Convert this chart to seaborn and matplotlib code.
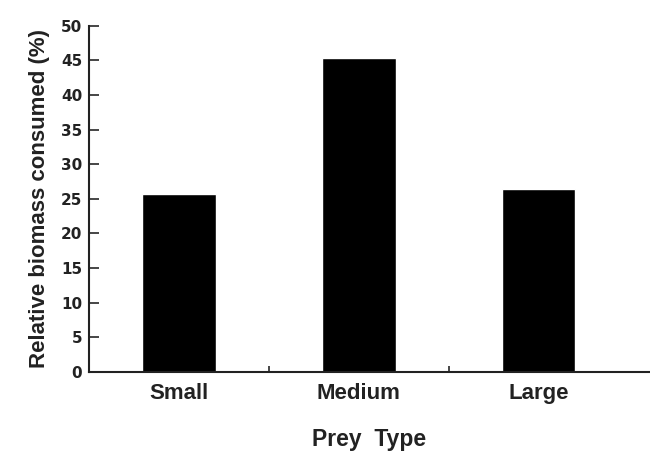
"""Relative biomass consumed by prey size class."""
import matplotlib
matplotlib.use("Agg")
import matplotlib.pyplot as plt
from matplotlib.ticker import FixedLocator
import pandas as pd
import seaborn as sns

PREY_TYPES = ["Small", "Medium", "Large"]
BIOMASS_PCT = [25.7, 45.3, 26.4]
Y_TICKS = [0, 5, 10, 15, 20, 25, 30, 35, 40, 45, 50]


def main():
    sns.set_style("ticks")
    plt.rcParams["font.family"] = ["Liberation Sans", "DejaVu Sans"]

    df = pd.DataFrame({"prey": PREY_TYPES, "pct": BIOMASS_PCT})

    fig = plt.figure(figsize=(6.5, 4.54), dpi=100)
    ax = fig.add_axes([0.137, 0.181, 0.863, 0.762])

    sns.barplot(data=df, x="prey", y="pct", order=PREY_TYPES, color="black",
                saturation=1, width=0.41, ax=ax)

    ax.set_xlim(-0.5, 2.62)
    ax.set_ylim(0, 50)
    ax.set_yticks(Y_TICKS)
    ax.set_yticklabels([str(t) for t in Y_TICKS], family="DejaVu Sans",
                       fontweight="bold", fontsize=11, color="#222222")
    ax.tick_params(axis="y", direction="in", length=7, width=1.2, pad=5)

    # category labels without ticks, small inward ticks between categories
    ax.tick_params(axis="x", which="major", length=0, pad=8)
    ax.xaxis.set_minor_locator(FixedLocator([0.5, 1.5]))
    ax.tick_params(axis="x", which="minor", direction="in", length=4, width=1.2)
    for lab in ax.get_xticklabels():
        lab.set_fontsize(16)
        lab.set_fontweight("bold")
        lab.set_color("#222222")

    ax.set_xlabel("Prey  Type", fontsize=16.5, fontweight="bold", color="#222222", labelpad=17)
    ax.set_ylabel("Relative biomass consumed (%)", fontsize=16, fontweight="bold",
                  color="#222222", labelpad=8)

    sns.despine(ax=ax)
    for side in ["left", "bottom"]:
        ax.spines[side].set_linewidth(1.5)
        ax.spines[side].set_color("#222222")

    fig.savefig("out.png", dpi=100)
    plt.close(fig)


if __name__ == "__main__":
    main()
